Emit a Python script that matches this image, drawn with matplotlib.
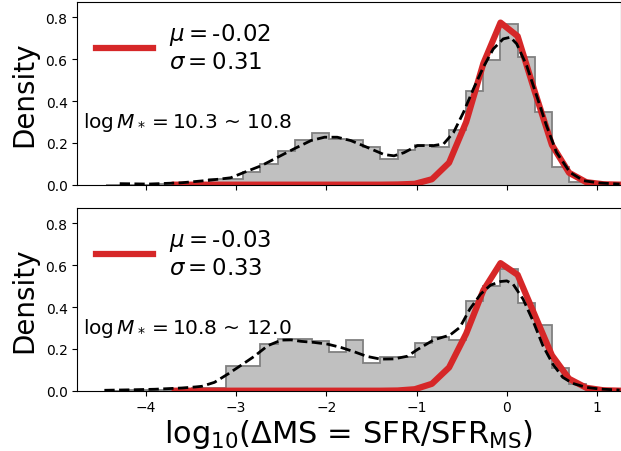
import matplotlib
matplotlib.use("Agg")
import matplotlib.pyplot as plt

# bin edges shared by both panels
bin_edges = [-4.44, -4.25, -4.06, -3.87, -3.68, -3.49, -3.30, -3.11, -2.92, -2.73,
             -2.54, -2.35, -2.16, -1.97, -1.78, -1.59, -1.40, -1.21, -1.02, -0.83,
             -0.64, -0.45, -0.26, -0.07, 0.12, 0.31, 0.50, 0.69, 0.88, 1.07, 1.26]

# histogram densities
hist_top = [0.0, 0.0, 0.0, 0.003, 0.003, 0.005, 0.027, 0.027, 0.062, 0.099,
            0.163, 0.215, 0.249, 0.219, 0.213, 0.18, 0.123, 0.167, 0.19, 0.182,
            0.263, 0.450, 0.597, 0.766, 0.612, 0.349, 0.086, 0.014, 0.003, 0.002]
hist_bot = [0.0, 0.002, 0.004, 0.004, 0.008, 0.012, 0.015, 0.116, 0.116, 0.223,
            0.247, 0.245, 0.240, 0.186, 0.242, 0.132, 0.159, 0.162, 0.226, 0.258,
            0.243, 0.430, 0.50, 0.581, 0.417, 0.314, 0.108, 0.032, 0.004, 0.002]

# kde (dashed)
kde_top_x = [-4.29, -3.97, -3.61, -3.30, -3.06, -2.91, -2.72, -2.54, -2.36, -2.17,
             -2.02, -1.88, -1.73, -1.55, -1.36, -1.25, -1.14, -0.99, -0.81, -0.70,
             -0.59, -0.48, -0.37, -0.26, -0.15, -0.04, 0.04, 0.11, 0.22, 0.33,
             0.44, 0.55, 0.70, 0.85, 1.03, 1.25]
kde_top_y = [0.005, 0.003, 0.009, 0.021, 0.033, 0.059, 0.091, 0.131, 0.171, 0.211,
             0.227, 0.227, 0.211, 0.179, 0.144, 0.138, 0.153, 0.187, 0.187, 0.195,
             0.25, 0.346, 0.458, 0.562, 0.649, 0.697, 0.705, 0.673, 0.569, 0.426,
             0.282, 0.155, 0.059, 0.019, 0.008, 0.003]
kde_bot_x = [-4.46, -4.2, -3.9, -3.6, -3.45, -3.38, -3.24, -3.09, -2.94, -2.80,
             -2.65, -2.50, -2.39, -2.28, -2.14, -1.99, -1.84, -1.69, -1.55, -1.40,
             -1.25, -1.10, -0.99, -0.81, -0.63, -0.52, -0.41, -0.29, -0.18, -0.07,
             0.0, 0.07, 0.18, 0.29, 0.40, 0.51, 0.62, 0.73, 0.88, 1.03, 1.25]
kde_bot_y = [0.002, 0.004, 0.007, 0.013, 0.018, 0.021, 0.04, 0.08, 0.123, 0.164,
             0.215, 0.242, 0.243, 0.236, 0.231, 0.223, 0.207, 0.186, 0.164, 0.151,
             0.152, 0.165, 0.197, 0.243, 0.266, 0.303, 0.39, 0.462, 0.505, 0.522,
             0.525, 0.509, 0.438, 0.334, 0.215, 0.127, 0.064, 0.035, 0.016, 0.008, 0.003]

# gaussian fit (red), sampled on the bin edges from -3.68 on
fit_x = bin_edges[4:]
fit_top = [0, 0, 0, 0, 0, 0, 0, 0, 0, 0, 0, 0, 0, 0.001,
           0.004, 0.026, 0.105, 0.30, 0.58, 0.775, 0.71, 0.445, 0.19, 0.057, 0.012, 0.002, 0.0]
fit_bot = [0, 0, 0, 0, 0, 0, 0, 0, 0, 0, 0, 0, 0, 0.001,
           0.007, 0.033, 0.111, 0.273, 0.48, 0.61, 0.554, 0.361, 0.169, 0.057, 0.014, 0.002, 0.0]

mus = ["-0.02", "-0.03"]
sigmas = ["0.31", "0.33"]
mass_ranges = [r"$\log M_* = 10.3$ ~ 10.8", r"$\log M_* = 10.8$ ~ 12.0"]

fig = plt.figure(figsize=(6.21, 4.52), dpi=100)
ax1 = fig.add_axes([0.1245, 0.5892, 0.8747, 0.4035])
ax2 = fig.add_axes([0.1245, 0.1334, 0.8747, 0.4035])

panels = [(ax1, hist_top, kde_top_x, kde_top_y, fit_top),
          (ax2, hist_bot, kde_bot_x, kde_bot_y, fit_bot)]

for i, (ax, h, kx, ky, fy) in enumerate(panels):
    ax.stairs(h, bin_edges, fill=True, color="silver", lw=0, zorder=1)
    ax.stairs(h, bin_edges, fill=False, color="gray", lw=1.3, zorder=1.5)
    ax.plot(fit_x, fy, color="#d62728", lw=4.5, zorder=2,
            label=r"$\mu = $" + mus[i] + "\n" + r"$\sigma = $" + sigmas[i])
    ax.plot(kx, ky, color="black", ls="--", lw=2, zorder=3)
    ax.text(0.011, 0.315, mass_ranges[i], transform=ax.transAxes,
            fontsize=14.5, va="baseline", ha="left")
    ax.legend(loc="upper left", frameon=False, fontsize=16.5, handlelength=2.5,
              handletextpad=0.7, borderaxespad=0.4)
    ax.set_xlim(-4.76, 1.26)
    ax.set_ylim(0, 0.872)
    ax.set_yticks([0.0, 0.2, 0.4, 0.6, 0.8])
    ax.set_xticks([-4, -3, -2, -1, 0, 1])
    ax.tick_params(labelsize=10)
    ax.set_ylabel("Density", fontsize=20, labelpad=5)

ax1.tick_params(labelbottom=False)
ax2.set_xlabel(r"log$_{10}$($\Delta$MS = SFR/SFR$_{\mathrm{MS}}$)", fontsize=22, labelpad=2)

fig.savefig("out.png", dpi=100)
